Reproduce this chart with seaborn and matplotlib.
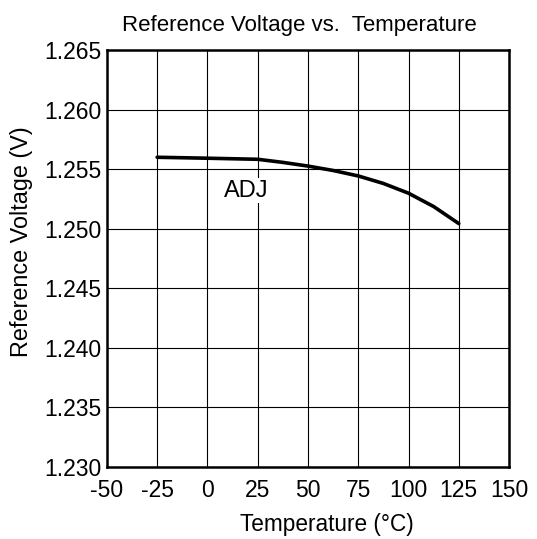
import matplotlib
matplotlib.use("Agg")
import matplotlib.pyplot as plt
import seaborn as sns
import pandas as pd

# Data (ADJ)
temperature = [-25, 0, 25, 37.5, 50, 62.5, 75, 87.5, 100, 112.5, 125]
ref_voltage = [1.2560, 1.25592, 1.25583, 1.25557, 1.25526, 1.25489, 1.25443,
               1.25380, 1.25298, 1.25186, 1.25043]
x_ticks = [-50, -25, 0, 25, 50, 75, 100, 125, 150]
y_ticks = [1.230, 1.235, 1.240, 1.245, 1.250, 1.255, 1.260, 1.265]

df = pd.DataFrame({"Temperature": temperature, "Voltage": ref_voltage})

sns.set_style("white")
plt.rcParams["font.family"] = ["Liberation Sans", "DejaVu Sans"]
plt.rcParams["text.color"] = "black"

fig = plt.figure(figsize=(5.37, 5.39), dpi=100)
ax = fig.add_axes([0.199, 0.134, 0.749, 0.773])

sns.lineplot(data=df, x="Temperature", y="Voltage", color="black", linewidth=2.6, ax=ax)

ax.set_xlim(-50, 150)
ax.set_ylim(1.230, 1.265)
ax.set_xticks(x_ticks)
ax.set_yticks(y_ticks)
ax.set_xticklabels([str(t) for t in x_ticks])
ax.set_yticklabels(["%.3f" % v for v in y_ticks])
ax.tick_params(axis="both", labelsize=16.5, length=0, colors="black")
ax.tick_params(axis="x", pad=9)
ax.tick_params(axis="y", pad=4)
ax.grid(True, color="black", linewidth=0.8)
for s in ax.spines.values():
    s.set_color("black")
    s.set_linewidth(1.8)
    s.set_visible(True)

ax.text(19.5, 1.2532, "ADJ", fontsize=17, ha="center", va="center", color="black",
        bbox=dict(facecolor="white", edgecolor="none", pad=1))

ax.set_xlabel("Temperature (°C)", fontsize=16.3, labelpad=8, color="black", x=0.547)
ax.set_ylabel("Reference Voltage (V)", fontsize=16.8, labelpad=8, color="black", y=0.541)
ax.set_title("Reference Voltage vs.  Temperature", fontsize=16, pad=14, color="black", x=0.478)

fig.savefig("out.png", dpi=100)
plt.close(fig)
